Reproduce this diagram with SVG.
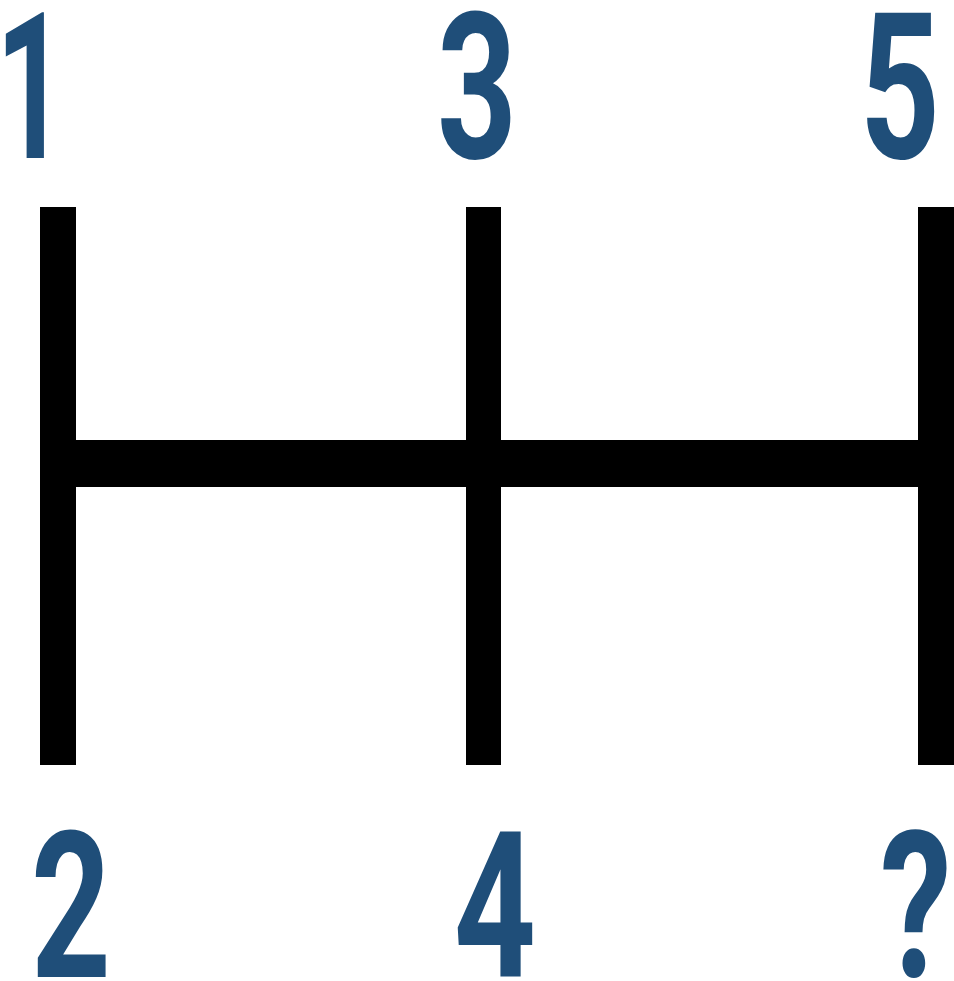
<svg xmlns="http://www.w3.org/2000/svg" width="954" height="981" viewBox="0 0 954 981">
<style>
.d{font-family:Roboto,"Liberation Sans",Arial,sans-serif;font-weight:bold;font-size:205px;fill:#1F4E79;text-anchor:middle}
.bar{fill:#000}
</style>
<rect width="954" height="981" fill="#fff"/>
<g id="connectors">
<rect class="bar" x="40" y="207" width="36" height="558"/>
<rect class="bar" x="466" y="207" width="35" height="558"/>
<rect class="bar" x="918" y="207" width="36" height="558"/>
<rect class="bar" x="40" y="440" width="914" height="47"/>
</g>
<g id="gear1"><text class="d" transform="translate(31,158) scale(0.6,1)">1</text></g>
<g id="gear3"><text class="d" transform="translate(477,158) scale(0.68,1)">3</text></g>
<g id="gear5"><text class="d" transform="translate(900,158) scale(0.68,1)">5</text></g>
<g id="gear2"><text class="d" transform="translate(71,977) scale(0.68,1)">2</text></g>
<g id="gear4"><text class="d" transform="translate(495,977) scale(0.7,1)">4</text></g>
<g id="gearR"><text class="d" transform="translate(916,977) scale(0.7,1)">?</text></g>
</svg>
